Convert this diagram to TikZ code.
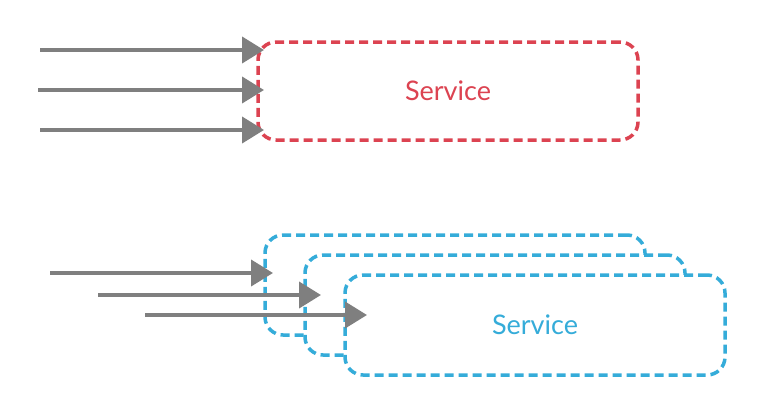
\documentclass[tikz,border=0pt]{standalone}
\usepackage{fontspec}
\setmainfont{Lato}
\usetikzlibrary{arrows.meta}
\definecolor{svcred}{HTML}{DC4351}
\definecolor{svcblue}{HTML}{35ACD9}
\definecolor{arrgray}{HTML}{7F7F7F}
\tikzset{
  svcbox/.style={draw=#1, fill=white, line width=3.5pt, dash pattern=on 9pt off 5pt,
    rounded corners=18pt, minimum width=380pt, minimum height=98pt,
    text=#1, font=\fontsize{27}{30}\selectfont, inner sep=0pt},
  inarrow/.style={draw=arrgray, line width=4pt, -{Triangle[length=22pt,width=26pt]}}
}
\begin{document}
\begin{tikzpicture}[x=1pt,y=-1pt]
\useasboundingbox (0,0) rectangle (767,415);
% top service
\node[svcbox=svcred] (top) at (448,91) {Service};
\coordinate (t1) at (40,50);
\coordinate (t2) at (38,90);
\coordinate (t3) at (40,130);
\coordinate (e1) at (264,50);
\coordinate (e2) at (264,90);
\coordinate (e3) at (264,130);
\draw[inarrow] (t1) -- (e1);
\draw[inarrow] (t2) -- (e2);
\draw[inarrow] (t3) -- (e3);
% bottom replicated services
\node[svcbox=svcblue, minimum height=100pt] (back) at (455,285) {};
\node[svcbox=svcblue, minimum height=100pt] (mid) at (495,305) {};
\node[svcbox=svcblue, minimum height=100pt] (front) at (535,325) {Service};
\coordinate (b1) at (50,273);
\coordinate (b2) at (98,295);
\coordinate (b3) at (145,315);
\coordinate (f1) at (273,273);
\coordinate (f2) at (321,295);
\coordinate (f3) at (367,315);
\draw[inarrow] (b1) -- (f1);
\draw[inarrow] (b2) -- (f2);
\draw[inarrow] (b3) -- (f3);
\end{tikzpicture}
\end{document}
